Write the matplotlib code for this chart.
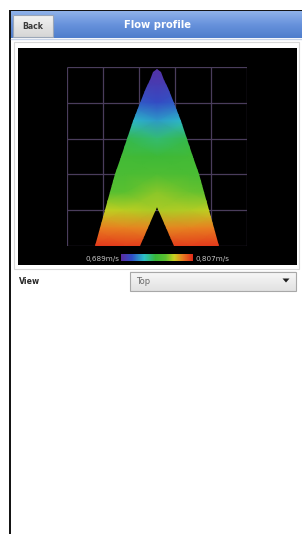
"""Flow profile screen: velocity distribution in the pipe cross-section (top view)."""

import matplotlib
matplotlib.use("Agg")
import matplotlib.pyplot as plt
import matplotlib.patches as mpatches
from matplotlib.colors import LinearSegmentedColormap, Normalize
from matplotlib.colorbar import ColorbarBase
import numpy as np

plt.rcParams["font.family"] = ["DejaVu Sans"]

W, H = 302, 534

# ---------------------------------------------------------------------------
# data
# ---------------------------------------------------------------------------
V_MIN, V_MAX = 0.689, 0.807
V_MIN_LABEL = "0,689m/s"
V_MAX_LABEL = "0,807m/s"

# sample positions of the velocity field (grid units, 5 x 5 cells)
FIELD_X = [0.7, 1.6, 2.5, 3.4, 4.3]
FIELD_Y = [5.0, 4.5, 4.0, 3.5, 3.0, 2.5, 2.0, 1.5, 1.0, 0.5, 0.0]
FIELD_V = [
    [0.691, 0.691, 0.691, 0.691, 0.691],
    [0.700, 0.699, 0.697, 0.699, 0.700],
    [0.716, 0.711, 0.705, 0.711, 0.716],
    [0.733, 0.727, 0.720, 0.727, 0.733],
    [0.746, 0.743, 0.738, 0.743, 0.746],
    [0.750, 0.750, 0.748, 0.750, 0.750],
    [0.754, 0.754, 0.756, 0.754, 0.754],
    [0.760, 0.761, 0.768, 0.764, 0.760],
    [0.776, 0.774, 0.772, 0.773, 0.776],
    [0.790, 0.789, 0.788, 0.789, 0.790],
    [0.804, 0.803, 0.803, 0.803, 0.804],
]

# outline of the profile: half width at each height, centred on x = 2.5
PROFILE_CX = 2.5
PROFILE_Y = [0.0, 0.5, 1.0, 1.5, 2.0, 2.5, 3.0, 3.5, 4.0, 4.4, 4.65, 4.85, 4.95]
PROFILE_HALF = [1.73, 1.59, 1.45, 1.31, 1.17, 1.01, 0.84, 0.66, 0.47, 0.30, 0.20, 0.10, 0.0]
# notch cut in the bottom
NOTCH_Y = [0.0, 1.08]
NOTCH_HALF = [0.47, 0.0]

GRID_TICKS = [0, 1, 2, 3, 4, 5]

CMAP_STOPS = [0.0, 0.15, 0.32, 0.48, 0.62, 0.74, 0.86, 1.0]
CMAP_COLORS = ["#5a2ca0", "#2f4fc8", "#2cc0c8", "#38b838", "#5cc030",
               "#cad020", "#ea7a20", "#e02a1a"]

# ---------------------------------------------------------------------------
# figure / screen chrome
# ---------------------------------------------------------------------------
fig = plt.figure(figsize=(W / 100, H / 100), dpi=100)
ui = fig.add_axes([0, 0, 1, 1])
ui.set_xlim(0, W)
ui.set_ylim(H, 0)
ui.axis("off")

def px_axes(x0, y0, x1, y1):
    """figure axes from pixel box (top-left origin)"""
    return fig.add_axes([x0 / W, 1 - y1 / H, (x1 - x0) / W, (y1 - y0) / H])

# frame lines
ui.add_patch(mpatches.Rectangle((8.5, 10), 2, H, color="#151515", lw=0))
ui.add_patch(mpatches.Rectangle((8.5, 9.5), W, 2, color="#151515", lw=0))

# header bar with gradient
header = LinearSegmentedColormap.from_list("hdr", ["#8fb2ea", "#6792dc", "#4f7ecc"])
ui.imshow(np.linspace(0, 1, 30).reshape(-1, 1), cmap=header, aspect="auto",
          extent=(10.5, W, 38, 11.5), zorder=1)
ui.plot([10.5, W], [38.5, 38.5], color="#c8d4e8", lw=1, zorder=2)

# back button
btn = LinearSegmentedColormap.from_list("btn", ["#f2f2f2", "#d6d6d6"])
ui.imshow(np.linspace(0, 1, 20).reshape(-1, 1), cmap=btn, aspect="auto",
          extent=(13, 53, 37, 15), zorder=3)
ui.add_patch(mpatches.Rectangle((13, 15), 40, 22, fill=False,
                                edgecolor="#9aa6b8", lw=0.8, zorder=4))
ui.text(33, 26.5, "Back", ha="center", va="center", fontsize=5.6,
        fontweight="bold", color="#3a3a3a", zorder=5)
ui.text(158, 25.5, "Flow profile", ha="center", va="center", fontsize=7.2,
        fontweight="bold", color="white", zorder=5)

# plot panel
ui.add_patch(mpatches.Rectangle((14, 42), 285, 227, facecolor="white",
                                edgecolor="#d8d8d8", lw=0.8, zorder=1))
ui.add_patch(mpatches.Rectangle((18, 48), 278.5, 216.5, color="black", lw=0, zorder=2))

# view selector
ui.text(19, 282, "View", ha="left", va="center", fontsize=5.6,
        fontweight="bold", color="#2a2a2a")
drop = LinearSegmentedColormap.from_list("drop", ["#f8f8f8", "#e2e2e2"])
ui.imshow(np.linspace(0, 1, 20).reshape(-1, 1), cmap=drop, aspect="auto",
          extent=(130, 296, 291, 271.5), zorder=3)
ui.add_patch(mpatches.Rectangle((130, 271.5), 166, 19.5, fill=False,
                                edgecolor="#a8a8a8", lw=0.8, zorder=4))
ui.text(136, 282, "Top", ha="left", va="center", fontsize=6,
        color="#6a6a6a", zorder=5)
ui.add_patch(mpatches.Polygon([(282.5, 278.5), (289.5, 278.5), (286, 282.5)],
                              closed=True, color="#1e1e1e", lw=0, zorder=5))

# ---------------------------------------------------------------------------
# flow profile
# ---------------------------------------------------------------------------
cmap = LinearSegmentedColormap.from_list("flow", list(zip(CMAP_STOPS, CMAP_COLORS)))
norm = Normalize(V_MIN, V_MAX)

ax = px_axes(67, 67, 247, 246)
ax.set_xlim(GRID_TICKS[0], GRID_TICKS[-1])
ax.set_ylim(GRID_TICKS[0], GRID_TICKS[-1])
ax.axis("off")
ax.patch.set_alpha(0)

ax.vlines(GRID_TICKS, GRID_TICKS[0], GRID_TICKS[-1], color="#4a3d5c", lw=0.9, zorder=1)
ax.hlines(GRID_TICKS, GRID_TICKS[0], GRID_TICKS[-1], color="#4a3d5c", lw=0.9, zorder=1)

py = np.array(PROFILE_Y)
ph = np.array(PROFILE_HALF)
ny = np.array(NOTCH_Y)
nh = np.array(NOTCH_HALF)
outline = (
    list(zip(PROFILE_CX - ph, py))
    + list(zip(PROFILE_CX + ph[::-1], py[::-1]))
    + list(zip(PROFILE_CX + nh, ny))
    + list(zip(PROFILE_CX - nh[::-1], ny[::-1]))
)
shape = mpatches.Polygon(outline, closed=True, facecolor="none", edgecolor="none",
                         transform=ax.transData)
ax.add_patch(shape)

X, Y = np.meshgrid(FIELD_X, FIELD_Y)
mesh = ax.pcolormesh(X, Y, np.array(FIELD_V), cmap=cmap, norm=norm,
                     shading="gouraud", zorder=2)
mesh.set_clip_path(shape)

# colour scale
cax = px_axes(121, 254, 193, 261.5)
cb = ColorbarBase(cax, cmap=cmap, norm=norm, orientation="horizontal")
cb.set_ticks([])
cb.outline.set_visible(False)
ui.text(119, 258.5, V_MIN_LABEL, ha="right", va="center", fontsize=5.2, color="#c4c4c4")
ui.text(195, 258.5, V_MAX_LABEL, ha="left", va="center", fontsize=5.2, color="#c4c4c4")

fig.savefig("out.png", dpi=100)
